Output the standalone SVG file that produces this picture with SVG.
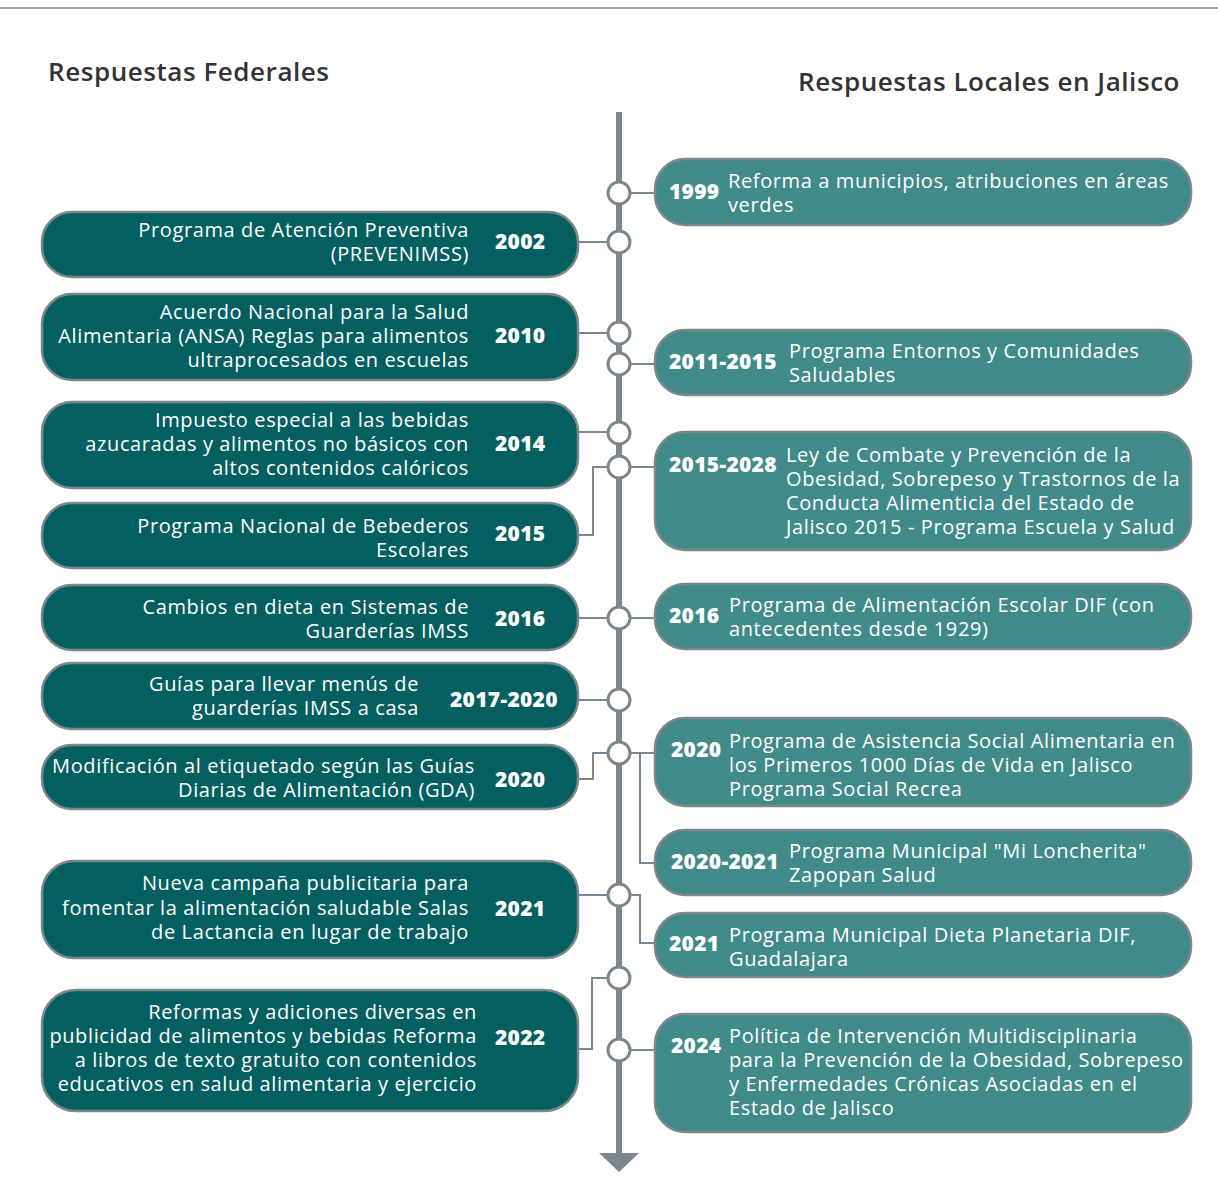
<svg xmlns="http://www.w3.org/2000/svg" width="1218" height="1202" viewBox="0 0 1218 1202">
<style>
.title{font-family:"Open Sans","Liberation Sans",sans-serif;font-size:26px;font-weight:600;fill:#333333;letter-spacing:0.55px}
.fbox{fill:#045f60;stroke:#7b868d;stroke-width:2.5}
.lbox{fill:#408a8a;stroke:#7b868d;stroke-width:2.5}
.t{font-family:"Open Sans","Liberation Sans",sans-serif;font-size:20px;fill:#ffffff;letter-spacing:0.62px}
.r{text-anchor:end}
.y{font-family:"Open Sans","Liberation Sans",sans-serif;font-size:21px;font-weight:800;fill:#ffffff;letter-spacing:0.3px}
.conn{fill:none;stroke:#7b868d;stroke-width:2}
.dot{fill:#ffffff;stroke:#7b868d;stroke-width:3}
</style>
<rect width="1218" height="1202" fill="#ffffff"/>
<line x1="0" y1="8" x2="1218" y2="8" stroke="#9aa5ad" stroke-width="2"/>
<text class="title" x="48" y="81">Respuestas Federales</text>
<text class="title" x="798" y="91">Respuestas Locales en Jalisco</text>

<g id="connectors">
<line x1="619" y1="112" x2="619" y2="1156" stroke="#7b868d" stroke-width="6"/>
<polygon points="599,1153 639,1153 619,1172" fill="#7b868d"/>
<path class="conn" d="M631,193 H655"/>
<path class="conn" d="M578,242 H607"/>
<path class="conn" d="M578,333 H607"/>
<path class="conn" d="M631,364 H655"/>
<path class="conn" d="M578,432 H607"/>
<path class="conn" d="M631,467 H655"/>
<path class="conn" d="M578,535 H593 V467 H607"/>
<path class="conn" d="M578,618 H607"/>
<path class="conn" d="M631,618 H655"/>
<path class="conn" d="M578,700 H607"/>
<path class="conn" d="M578,779 H593 V753 H607"/>
<path class="conn" d="M631,753 H655"/>
<path class="conn" d="M640,753 V863 H655"/>
<path class="conn" d="M578,895 H607"/>
<path class="conn" d="M631,895 H640 V943 H655"/>
<path class="conn" d="M578,1049 H592 V978 H607"/>
<path class="conn" d="M631,1050 H655"/>
<circle class="dot" cx="619" cy="193" r="11"/>
<circle class="dot" cx="619" cy="242" r="11"/>
<circle class="dot" cx="619" cy="333" r="11"/>
<circle class="dot" cx="619" cy="364" r="11"/>
<circle class="dot" cx="619" cy="433" r="11"/>
<circle class="dot" cx="619" cy="467" r="11"/>
<circle class="dot" cx="619" cy="618" r="11"/>
<circle class="dot" cx="619" cy="700" r="11"/>
<circle class="dot" cx="619" cy="753" r="11"/>
<circle class="dot" cx="619" cy="895" r="11"/>
<circle class="dot" cx="619" cy="978" r="11"/>
<circle class="dot" cx="619" cy="1050" r="11"/>
</g>

<g id="f2002">
<rect class="fbox" x="42" y="212" width="536" height="65" rx="30"/>
<text class="t r" x="469" y="237">Programa de Atención Preventiva<tspan x="469" dy="24">(PREVENIMSS)</tspan></text>
<text class="y" x="495" y="249">2002</text>
</g>
<g id="f2010">
<rect class="fbox" x="42" y="294" width="536" height="86" rx="30"/>
<text class="t r" x="469" y="319">Acuerdo Nacional para la Salud<tspan x="469" dy="24">Alimentaria (ANSA) Reglas para alimentos</tspan><tspan x="469" dy="24">ultraprocesados en escuelas</tspan></text>
<text class="y" x="495" y="343">2010</text>
</g>
<g id="f2014">
<rect class="fbox" x="42" y="402" width="536" height="86" rx="30"/>
<text class="t r" x="469" y="427">Impuesto especial a las bebidas<tspan x="469" dy="24">azucaradas y alimentos no básicos con</tspan><tspan x="469" dy="24">altos contenidos calóricos</tspan></text>
<text class="y" x="495" y="451">2014</text>
</g>
<g id="f2015">
<rect class="fbox" x="42" y="503" width="536" height="65" rx="30"/>
<text class="t r" x="469" y="533">Programa Nacional de Bebederos<tspan x="469" dy="24">Escolares</tspan></text>
<text class="y" x="495" y="541">2015</text>
</g>
<g id="f2016">
<rect class="fbox" x="42" y="585" width="536" height="65" rx="30"/>
<text class="t r" x="469" y="614">Cambios en dieta en Sistemas de<tspan x="469" dy="24">Guarderías IMSS</tspan></text>
<text class="y" x="495" y="626">2016</text>
</g>
<g id="f2017">
<rect class="fbox" x="42" y="663" width="536" height="66" rx="30"/>
<text class="t r" x="419" y="691">Guías para llevar menús de<tspan x="419" dy="24">guarderías IMSS a casa</tspan></text>
<text class="y" x="450" y="707">2017-2020</text>
</g>
<g id="f2020">
<rect class="fbox" x="42" y="745" width="536" height="64" rx="30"/>
<text class="t r" x="475" y="773">Modificación al etiquetado según las Guías<tspan x="475" dy="24">Diarias de Alimentación (GDA)</tspan></text>
<text class="y" x="495" y="787">2020</text>
</g>
<g id="f2021">
<rect class="fbox" x="42" y="861" width="536" height="97" rx="32"/>
<text class="t r" x="469" y="890">Nueva campaña publicitaria para<tspan x="469" dy="25">fomentar la alimentación saludable Salas</tspan><tspan x="469" dy="24">de Lactancia en lugar de trabajo</tspan></text>
<text class="y" x="495" y="916">2021</text>
</g>
<g id="f2022">
<rect class="fbox" x="42" y="990" width="536" height="121" rx="34"/>
<text class="t r" x="477" y="1019">Reformas y adiciones diversas en<tspan x="477" dy="24">publicidad de alimentos y bebidas Reforma</tspan><tspan x="477" dy="24">a libros de texto gratuito con contenidos</tspan><tspan x="477" dy="24">educativos en salud alimentaria y ejercicio</tspan></text>
<text class="y" x="495" y="1045">2022</text>
</g>

<g id="l1999">
<rect class="lbox" x="655" y="159" width="536" height="66" rx="30"/>
<text class="y" x="669" y="199">1999</text>
<text class="t" x="728" y="188">Reforma a municipios, atribuciones en áreas<tspan x="728" dy="24">verdes</tspan></text>
</g>
<g id="l2011">
<rect class="lbox" x="655" y="330" width="536" height="65" rx="30"/>
<text class="y" x="669" y="369">2011-2015</text>
<text class="t" x="789" y="358">Programa Entornos y Comunidades<tspan x="789" dy="24">Saludables</tspan></text>
</g>
<g id="l2015">
<rect class="lbox" x="655" y="432" width="536" height="118" rx="30"/>
<text class="y" x="669" y="472">2015-2028</text>
<text class="t" x="786" y="462">Ley de Combate y Prevención de la<tspan x="786" dy="24">Obesidad, Sobrepeso y Trastornos de la</tspan><tspan x="786" dy="24">Conducta Alimenticia del Estado de</tspan><tspan x="786" dy="24">Jalisco 2015 - Programa Escuela y Salud</tspan></text>
</g>
<g id="l2016">
<rect class="lbox" x="655" y="584" width="536" height="65" rx="30"/>
<text class="y" x="669" y="623">2016</text>
<text class="t" x="729" y="612">Programa de Alimentación Escolar DIF (con<tspan x="729" dy="24">antecedentes desde 1929)</tspan></text>
</g>
<g id="l2020">
<rect class="lbox" x="655" y="718" width="536" height="88" rx="30"/>
<text class="y" x="671" y="757">2020</text>
<text class="t" x="729" y="748">Programa de Asistencia Social Alimentaria en<tspan x="729" dy="24">los Primeros 1000 Días de Vida en Jalisco</tspan><tspan x="729" dy="24">Programa Social Recrea</tspan></text>
</g>
<g id="l2020b">
<rect class="lbox" x="655" y="830" width="536" height="65" rx="30"/>
<text class="y" x="671" y="869">2020-2021</text>
<text class="t" x="789" y="858">Programa Municipal "Mi Loncherita"<tspan x="789" dy="24">Zapopan Salud</tspan></text>
</g>
<g id="l2021">
<rect class="lbox" x="655" y="913" width="536" height="64" rx="30"/>
<text class="y" x="669" y="951">2021</text>
<text class="t" x="729" y="942">Programa Municipal Dieta Planetaria DIF,<tspan x="729" dy="24">Guadalajara</tspan></text>
</g>
<g id="l2024">
<rect class="lbox" x="655" y="1014" width="536" height="118" rx="30"/>
<text class="y" x="671" y="1053">2024</text>
<text class="t" x="729" y="1043">Política de Intervención Multidisciplinaria<tspan x="729" dy="24">para la Prevención de la Obesidad, Sobrepeso</tspan><tspan x="729" dy="24">y Enfermedades Crónicas Asociadas en el</tspan><tspan x="729" dy="24">Estado de Jalisco</tspan></text>
</g>
</svg>
